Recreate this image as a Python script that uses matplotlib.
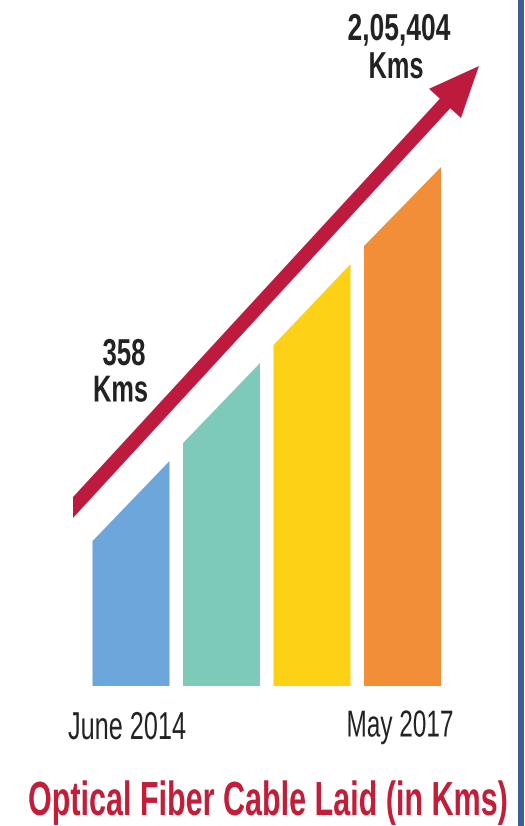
import matplotlib
matplotlib.use("Agg")
import matplotlib.pyplot as plt
from matplotlib.patches import Polygon, Rectangle
from matplotlib.text import Text
from matplotlib.patheffects import AbstractPathEffect
from matplotlib.transforms import Affine2D, Bbox

# ---- data (visual bar heights, arbitrary units) ----
categories = ["June 2014", "", "", "May 2017"]
height_left = [145, 243, 341, 440]
height_right = [225, 323, 422, 519]
bar_colors = ["#6CA6DA", "#7ECAB9", "#FCD116", "#F28D38"]
start_label = ["358", "Kms"]
end_label = ["2,05,404", "Kms"]
title = "Optical Fiber Cable Laid (in Kms)"

W, H = 525, 826
fig = plt.figure(figsize=(W / 100, H / 100), dpi=100)
fig.patch.set_facecolor("white")

FAM = ["Liberation Sans", "DejaVu Sans"]


class Condense(AbstractPathEffect):
    """Horizontally condense text glyphs about the text anchor."""

    def __init__(self, text):
        super().__init__()
        self.text = text

    def draw_path(self, renderer, gc, tpath, affine, rgbFace=None):
        cx = self.text.anchor_x()
        sx = self.text.sx
        t = affine + Affine2D().translate(-cx, 0).scale(sx, 1).translate(cx, 0)
        renderer.draw_path(gc, tpath, t, rgbFace)


class CText(Text):
    def __init__(self, *args, **kw):
        super().__init__(*args, **kw)
        self.sx = 1.0
        self.set_path_effects([Condense(self)])

    def anchor_x(self):
        return self.get_transform().transform(self.get_unitless_position())[0]

    def get_window_extent(self, renderer=None, dpi=None):
        bb = super().get_window_extent(renderer, dpi)
        cx = self.anchor_x()
        x0 = cx + (bb.x0 - cx) * self.sx
        x1 = cx + (bb.x1 - cx) * self.sx
        return Bbox([[x0, bb.y0], [x1, bb.y1]])


# bar axes: x = index, y = height units (1 unit = 1 px)
step = 90.5
x_first = 131.0
left_px = x_first - step / 2
right_px = left_px + step * 4
bottom_px = 686
ax = fig.add_axes([left_px / W, (H - bottom_px) / H, (right_px - left_px) / W, bottom_px / H])
ax.set_xlim(-0.5, 3.5)
ax.set_ylim(0, bottom_px)
ax.axis("off")
bw = 77 / step
for i, (hl, hr, c) in enumerate(zip(height_left, height_right, bar_colors)):
    x0, x1 = i - bw / 2, i + bw / 2
    ax.add_patch(Polygon([(x0, 0), (x1, 0), (x1, hr), (x0, hl)], closed=True,
                         facecolor=c, edgecolor="none"))

# overlay axes in pixel coordinates for decorations/text
ov = fig.add_axes([0, 0, 1, 1])
ov.set_xlim(0, W)
ov.set_ylim(H, 0)
ov.axis("off")

# arrow (decoration)
arrow = [(73, 497), (439.8, 98.7), (429, 88.8), (479, 66), (461, 118),
         (450.2, 108.3), (73, 518)]
ov.add_patch(Polygon(arrow, closed=True, facecolor="#BE1A3D", edgecolor="none"))

# right border
ov.add_patch(Rectangle((517.5, -1), 6.5, H + 2, facecolor="#3C5F96", edgecolor="none"))

texts = []


def ctext(x, y, s, size, target_w, weight="normal", color="#222222"):
    t = CText(x, y, s, ha="center", va="baseline", fontsize=size,
              fontweight=weight, family=FAM, color=color)
    ov.add_artist(t)
    texts.append((t, target_w))
    return t


ctext(124, 365, start_label[0], 27, 43, "bold")
ctext(120.5, 401.5, start_label[1], 27, 55, "bold")
ctext(399, 40, end_label[0], 27, 103, "bold")
ctext(396, 78, end_label[1], 27, 55, "bold")

ctext(127, 739, categories[0], 28, 118)
ctext(400, 736.5, categories[3], 27, 107)

ctext(268, 815, title, 34.5, 480, "bold", color="#C21E3A")

fig.canvas.draw()
r = fig.canvas.get_renderer()
for t, tw in texts:
    nat = t.get_window_extent(r).width
    t.sx = tw / nat

fig.savefig("out.png", dpi=100, facecolor="white")
